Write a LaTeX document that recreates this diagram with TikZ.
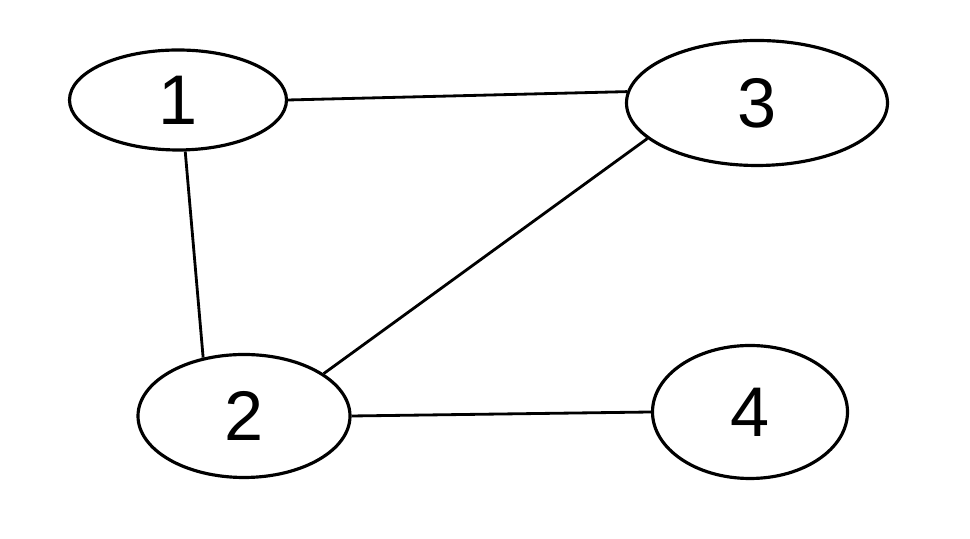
\documentclass[tikz,border=0pt]{standalone}
\usepackage{fontspec}
\setmainfont{Liberation Sans}
\usepackage{tikz}
\usetikzlibrary{shapes.geometric}

\begin{document}
\begin{tikzpicture}[
  vert/.style={draw, ellipse, line width=1.8pt, inner sep=0pt, font=\fontsize{40}{40}\selectfont},
  edge/.style={line width=1.6pt}]
  \useasboundingbox (0,0) rectangle (19.4,10.78);
  \node[vert, minimum width=4.34cm, minimum height=2.0cm] (n1) at (3.56,8.78) {1};
  \node[vert, minimum width=5.22cm, minimum height=2.5cm] (n3) at (15.14,8.72) {3};
  \node[vert, minimum width=4.24cm, minimum height=2.46cm] (n2) at (4.88,2.46) {2};
  \node[vert, minimum width=3.9cm, minimum height=2.66cm] (n4) at (15.0,2.54) {4};
  \draw[edge] (n1.east) -- (n3.175);
  \draw[edge] (n1.278) -- (n2.125);
  \draw[edge] (n3.198) -- (n2.28);
  \draw[edge] (n2.east) -- (n4.west);
\end{tikzpicture}
\end{document}
